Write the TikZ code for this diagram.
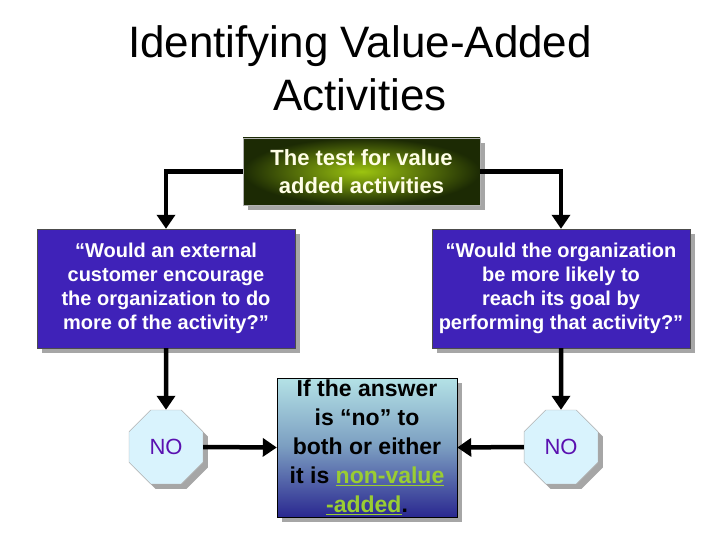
\documentclass[tikz,border=0pt]{standalone}
\usepackage{fontspec}
\setmainfont{Liberation Sans}
\usetikzlibrary{shapes.geometric,shadows,arrows.meta}
\definecolor{purp}{HTML}{3F22B8}
\definecolor{nogreen}{HTML}{9ACD32}
\definecolor{nopurp}{HTML}{5A10B0}
\definecolor{gin}{HTML}{9CC410}
\definecolor{gout}{HTML}{1C2A04}
\definecolor{ctop}{HTML}{B4E2E6}
\definecolor{cmid}{HTML}{7A9CC0}
\definecolor{cbot}{HTML}{2A2890}
\begin{document}
\begin{tikzpicture}[x=1pt,y=-1pt,
  sh/.style={drop shadow={shadow xshift=5pt,shadow yshift=-5pt,fill=gray!70,opacity=1}},
  conn/.style={line width=4.5pt,-{Triangle[length=14pt,width=18pt]}},
  qbox/.style={sh,draw=black!70,fill=purp,text=white,inner sep=0pt,minimum width=258pt,minimum height=119pt,align=center,font=\fontsize{20pt}{24pt}\selectfont\bfseries},
  oct/.style={regular polygon,regular polygon sides=8,minimum size=80pt,inner sep=0pt,fill=cyan!15,draw=gray!60,sh,text=nopurp,font=\fontsize{22pt}{24pt}\selectfont}]
\useasboundingbox (0,0) rectangle (720,540);
\node[font=\fontsize{44pt}{53pt}\selectfont,align=center] (title) at (360,68) {Identifying Value-Added\\Activities};
\node[sh,draw=gray!60,inner sep=0pt,minimum width=237pt,minimum height=67pt,inner color=gin,outer color=gout,text=yellow!10,align=center,font=\fontsize{22pt}{28pt}\selectfont\bfseries] (top) at (361.5,171.5) {The test for value\\added activities};
\node[qbox] (L) at (166,288.5) {“Would an external\\customer encourage\\the organization to do\\more of the activity?”};
\node[qbox] (R) at (561,288.5) {“Would the organization\\be more likely to\\reach its goal by\\performing that activity?”};
\node[oct] (NL) at (166,447) {NO};
\node[oct] (NR) at (561,447) {NO};
\node[sh,draw=black,inner sep=0pt,minimum width=180pt,minimum height=139pt,top color=ctop,bottom color=cbot,middle color=cmid,align=center,font=\fontsize{23pt}{29pt}\selectfont\bfseries] (C) at (367,447.5) {If the answer\\is “no” to\\both or either\\it is \textcolor{nogreen}{\underline{non-value}}\\\textcolor{nogreen}{\underline{-added}}.};
\draw[conn] (top.west) -| (L.north);
\draw[conn] (top.east) -| (R.north);
\draw[conn] (L.south) -- (NL.north);
\draw[conn] (R.south) -- (NR.north);
\draw[conn] (NL.east) -- (C.west);
\draw[conn] (NR.west) -- (C.east);
\end{tikzpicture}
\end{document}
